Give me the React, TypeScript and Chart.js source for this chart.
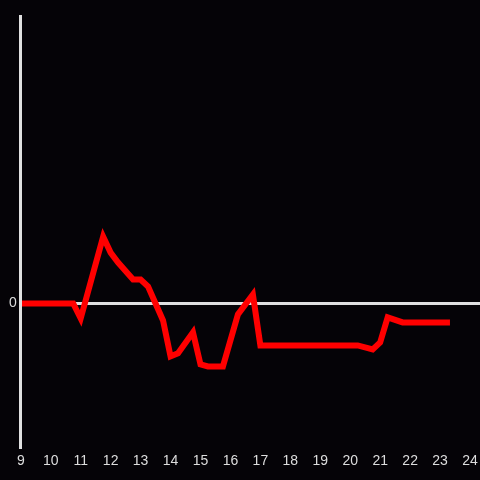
import React, { useEffect, useRef } from "react";
import { Chart, registerables } from "chart.js";

Chart.register(...registerables);

const times = [8.9, 10.75, 11, 11.75, 12, 12.25, 12.75, 13, 13.25, 13.75, 14, 14.25, 14.75, 15, 15.25, 15.75, 16.25, 16.75, 17, 20.25, 20.75, 21, 21.25, 21.75, 23.33];
const values = [0, 0, -0.104, 0.465, 0.354, 0.285, 0.167, 0.167, 0.118, -0.118, -0.368, -0.347, -0.201, -0.424, -0.438, -0.438, -0.076, 0.0625, -0.292, -0.292, -0.319, -0.271, -0.097, -0.132, -0.132];
const xTicks = [9, 10, 11, 12, 13, 14, 15, 16, 17, 18, 19, 20, 21, 22, 23, 24];
const yTicks = [0];

export default function App() {
  const ref = useRef<HTMLCanvasElement>(null);
  useEffect(() => {
    const canvas = ref.current!;
    const chart = new Chart(canvas, {
      type: "line",
      data: {
        datasets: [
          {
            data: times.map((t, i) => ({ x: t, y: values[i] })),
            borderColor: "#ff0000",
            borderWidth: 6,
            pointRadius: 0,
            tension: 0,
            fill: false,
          },
        ],
      },
      options: {
        animation: false,
        responsive: false,
        layout: { padding: { left: 5, top: 16, right: 0, bottom: 4 } },
        plugins: { legend: { display: false }, tooltip: { enabled: false } },
        scales: {
          x: {
            type: "linear",
            min: 9,
            max: 24.333,
            afterBuildTicks: (s: any) => {
              s.ticks = xTicks.map((v) => ({ value: v }));
            },
            grid: { display: false, drawTicks: false },
            border: { display: false },
            ticks: {
              color: "#dddddd",
              font: { family: "Liberation Sans", size: 14, lineHeight: 1.77 },
              padding: 2,
              maxRotation: 0,
              autoSkip: false,
              callback: (v: any) => String(v),
            },
          },
          y: {
            min: -1,
            max: 2,
            afterBuildTicks: (s: any) => {
              s.ticks = yTicks.map((v) => ({ value: v }));
            },
            grid: { color: "#e0e0e0", lineWidth: 3, drawTicks: false },
            border: { display: true, color: "#e0e0e0", width: 3, z: 1 },
            ticks: {
              color: "#dddddd",
              font: { family: "Liberation Sans", size: 14 },
              padding: 4,
              callback: (v: any) => String(v),
            },
          },
        },
      },
    });
    return () => chart.destroy();
  }, []);
  return (
    <canvas
      ref={ref}
      width={480}
      height={480}
      style={{ position: "fixed", left: 0, top: 0, width: 480, height: 480, background: "#050307", display: "block" }}
    />
  );
}
